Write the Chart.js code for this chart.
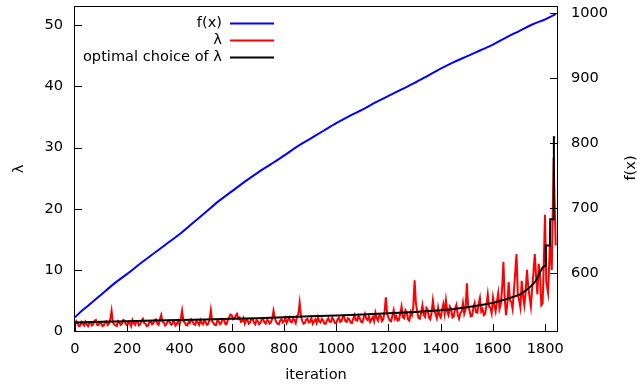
<!DOCTYPE html>
<html><head><meta charset="utf-8">
<script src="https://cdn.jsdelivr.net/npm/chart.js@4/dist/chart.umd.min.js"></script>
<style>html,body{margin:0;padding:0;background:#fff;overflow:hidden}</style>
</head><body>
<canvas id="c" width="637" height="385"></canvas>
<script>
// ---- data ----
const iterF = [0,20,50,100,150,200,250,300,350,400,450,500,550,600,650,700,750,800,850,900,950,1000,1050,1100,1150,1200,1250,1300,1350,1400,1450,1500,1550,1600,1650,1700,1750,1800,1840];
const fValues = [532,540,550,567,584,599,615,630,645,660,677,694,711,726,741,755,768,781,795,807,819,831,842,852,863,873,883,893,904,915,925,934,943,952,963,973,983,991,999];

const iterLambda = [0,5,10,15,20,25,30,35,40,45,50,55,60,65,70,75,80,85,90,95,100,105,110,115,120,125,130,135,140,145,150,155,160,165,170,175,180,185,190,195,200,205,210,215,220,225,230,235,240,245,250,255,260,265,270,275,280,285,290,295,300,305,310,315,320,325,330,335,340,345,350,355,360,365,370,375,380,385,390,395,400,405,410,415,420,425,430,435,440,445,450,455,460,465,470,475,480,485,490,495,500,505,510,515,520,525,530,535,540,545,550,555,560,565,570,575,580,585,590,595,600,605,610,615,620,625,630,635,640,645,650,655,660,665,670,675,680,685,690,695,700,705,710,715,720,725,730,735,740,745,750,755,760,765,770,775,780,785,790,795,800,805,810,815,820,825,830,835,840,845,850,855,860,865,870,875,880,885,890,895,900,905,910,915,920,925,930,935,940,945,950,955,960,965,970,975,980,985,990,995,1000,1005,1010,1015,1020,1025,1030,1035,1040,1045,1050,1055,1060,1065,1070,1075,1080,1085,1090,1095,1100,1105,1110,1115,1120,1125,1130,1135,1140,1145,1150,1155,1160,1165,1170,1175,1180,1185,1190,1195,1200,1205,1210,1215,1220,1225,1230,1235,1240,1245,1250,1255,1260,1265,1270,1275,1280,1285,1290,1295,1300,1305,1310,1315,1320,1325,1330,1335,1340,1345,1350,1355,1360,1365,1370,1375,1380,1385,1390,1395,1400,1405,1410,1415,1420,1425,1430,1435,1440,1445,1450,1455,1460,1465,1470,1475,1480,1485,1490,1495,1500,1505,1510,1515,1520,1525,1530,1535,1540,1545,1550,1555,1560,1565,1570,1575,1580,1585,1590,1595,1600,1605,1610,1615,1620,1625,1630,1635,1640,1645,1650,1655,1660,1665,1670,1675,1680,1685,1690,1695,1700,1705,1710,1715,1720,1725,1730,1735,1740,1745,1750,1755,1760,1765,1770,1775,1780,1785,1790,1795,1799,1804,1811,1818,1825,1832,1840];
const lambdaValues = [1.0,1.6,1.3,0.8,0.9,1.5,1.2,0.9,1.5,1.1,0.8,1.3,1.4,0.9,1.1,1.7,1.8,1.0,1.0,1.4,1.3,0.8,0.9,1.5,1.6,1.0,1.2,1.9,3.3,1.4,1.1,0.9,0.8,1.6,1.4,1.0,1.2,1.8,1.7,1.1,0.9,1.5,1.3,0.8,1.8,1.3,1.0,1.6,1.5,0.9,1.1,1.7,2.0,1.3,1.2,0.8,0.9,1.5,1.6,1.1,1.3,1.8,1.9,1.2,1.0,1.9,2.6,1.5,1.4,0.9,1.1,1.6,1.7,1.2,1.0,1.5,1.5,0.9,1.2,1.7,1.0,2.0,3.3,1.6,1.4,1.0,0.9,1.5,1.3,1.9,1.6,1.1,1.0,1.7,1.4,1.0,1.8,1.3,1.1,1.7,1.5,1.0,1.2,1.8,3.4,1.6,1.3,1.0,1.0,1.7,1.6,1.1,1.3,2.0,1.9,1.2,1.1,1.8,2.2,2.7,2.6,1.9,2.0,2.5,2.8,2.0,2.2,1.5,1.6,2.1,1.2,1.8,1.8,1.2,1.4,2.0,2.0,1.4,1.1,1.8,1.6,1.1,1.3,1.9,2.0,1.4,1.2,1.8,1.7,1.2,1.4,2.0,3.3,2.1,1.5,1.2,1.1,1.7,2.0,1.4,1.6,2.1,1.3,1.8,2.2,1.5,1.4,2.0,1.8,1.3,2.4,2.8,4.6,2.4,1.6,1.2,1.3,1.9,2.0,1.4,1.5,2.1,1.2,1.6,1.9,1.3,2.3,1.6,1.4,2.0,1.7,1.2,1.2,1.8,2.1,1.5,1.5,2.2,1.8,1.3,1.3,1.9,2.2,1.5,1.6,2.3,2.4,1.6,1.5,2.1,1.9,1.4,1.3,2.0,2.6,1.8,1.7,2.5,2.1,1.5,1.4,2.2,2.8,2.0,1.8,2.4,1.5,1.9,2.3,1.6,3.0,2.2,1.7,2.6,2.5,1.6,1.9,3.2,5.5,2.8,2.2,1.7,1.6,2.5,3.4,2.0,2.4,1.7,1.8,2.9,4.0,2.3,2.1,3.4,3.0,1.9,1.7,3.1,2.6,4.0,8.3,4.5,3.2,2.1,2.0,3.0,4.2,2.6,2.3,3.8,3.5,2.2,1.9,3.0,5.0,3.3,2.8,2.1,3.8,2.6,2.2,3.5,4.4,2.8,5.0,3.2,2.6,4.0,3.6,2.2,2.4,3.7,4.3,2.7,2.0,2.9,3.2,4.6,2.8,3.5,7.8,4.0,3.4,2.4,2.5,3.8,4.6,3.1,3.0,4.4,5.4,3.2,3.6,2.6,2.8,4.2,6.0,4.0,3.8,2.9,5.5,4.2,3.2,4.8,6.2,3.6,4.4,7.0,11.3,5.2,2.6,4.5,8.0,5.0,4.8,3.6,6.5,9.5,12.6,6.0,5.0,3.8,8.2,5.8,4.2,6.4,10.0,7.2,5.6,4.0,7.0,9.6,12.6,8.8,6.0,11.0,9.2,4.2,4.5,12.0,19.0,8.0,6.2,14.4,10.0,28.3,14.0];

const iterOpt = [0,100,200,300,400,500,600,700,800,900,1000,1100,1200,1300,1400,1450,1500,1550,1600,1650,1700,1725,1750,1765,1780,1790,1801,1802,1818,1819,1831,1833,1838];
const lambdaOpt = [1.4,1.5,1.6,1.7,1.8,1.9,2.0,2.1,2.25,2.4,2.55,2.7,2.9,3.1,3.4,3.6,3.9,4.2,4.6,5.2,5.9,6.6,7.5,8.3,9.6,10.4,10.7,14.0,14.0,18.3,18.3,31.7,31.7];

const xTicks = [0,200,400,600,800,1000,1200,1400,1600,1800];
const yLeftTicks = [0,10,20,30,40,50];
const yRightTicks = [600,700,800,900,1000];
const labels = { f: 'f(x)', lam: 'λ', opt: 'optimal choice of λ', x: 'iteration', yLeft: 'λ', yRight: 'f(x)' };

// ---- chart ----
const FONT = '"DejaVu Sans", sans-serif';
const FS = 14.6;
const toXY = (xs, ys) => xs.map((x, i) => ({x, y: ys[i]}));
const noPad = s => { s.paddingTop = 0; s.paddingBottom = 0; s.paddingLeft = 0; s.paddingRight = 0; };

const framePlugin = {
  id: 'frame',
  afterDraw(chart) {
    const ctx = chart.ctx, a = chart.chartArea;
    const sx = chart.scales.x, sy = chart.scales.y, sy2 = chart.scales.y2;
    ctx.save();
    ctx.strokeStyle = '#000';
    ctx.lineWidth = 1;
    ctx.beginPath();
    xTicks.forEach(v => { const p = Math.round(sx.getPixelForValue(v)) + 0.5; ctx.moveTo(p, a.bottom); ctx.lineTo(p, a.bottom - 7); });
    yLeftTicks.forEach(v => { const p = Math.round(sy.getPixelForValue(v)) + 0.5; ctx.moveTo(a.left, p); ctx.lineTo(a.left + 7, p); });
    yRightTicks.forEach(v => { const p = Math.round(sy2.getPixelForValue(v)) + 0.5; ctx.moveTo(a.right, p); ctx.lineTo(a.right - 7, p); });
    ctx.stroke();
    ctx.strokeRect(Math.round(a.left) - 0.5, Math.round(a.top) - 0.5, Math.round(a.right - a.left) + 1, Math.round(a.bottom - a.top) + 1);
    // legend (gnuplot style)
    ctx.font = FS + 'px ' + FONT;
    ctx.textAlign = 'right';
    ctx.textBaseline = 'middle';
    ctx.fillStyle = '#000';
    const order = [2, 1, 0];
    order.forEach((di, k) => {
      const ds = chart.data.datasets[di];
      const y = 23.5 + k * 17;
      ctx.fillText(ds.label, 222, y);
      ctx.strokeStyle = ds.borderColor;
      ctx.lineWidth = 2;
      ctx.beginPath(); ctx.moveTo(230, y); ctx.lineTo(274, y); ctx.stroke();
    });
    // right axis title, bottom-to-top
    ctx.translate(631, 168);
    ctx.rotate(-Math.PI / 2);
    ctx.textAlign = 'center';
    ctx.fillStyle = '#000';
    ctx.fillText(labels.yRight, 0, 0);
    ctx.restore();
  }
};

new Chart(document.getElementById('c'), {
  type: 'line',
  data: {
    datasets: [
      { label: labels.opt, data: toXY(iterOpt, lambdaOpt), borderColor: '#000000', borderWidth: 2, pointRadius: 0, yAxisID: 'y', order: 0 },
      { label: labels.lam, data: toXY(iterLambda, lambdaValues), borderColor: '#ff0000', borderWidth: 2, pointRadius: 0, yAxisID: 'y', order: 1 },
      { label: labels.f, data: toXY(iterF, fValues), borderColor: '#0000ff', borderWidth: 2, pointRadius: 0, yAxisID: 'y2', order: 2, cubicInterpolationMode: 'monotone' }
    ]
  },
  options: {
    responsive: false,
    devicePixelRatio: 1,
    animation: false,
    events: [],
    layout: { padding: { top: 7, left: 0, right: 0, bottom: 0 } },
    plugins: { legend: { display: false }, tooltip: { enabled: false } },
    scales: {
      x: {
        type: 'linear', position: 'bottom', min: 0, max: 1845,
        afterBuildTicks: s => { s.ticks = xTicks.map(v => ({ value: v })); },
        afterFit: s => { s.height = 54; noPad(s); },
        grid: { display: true, drawOnChartArea: false, drawTicks: false },
        border: { display: false },
        ticks: { padding: 9, color: '#000', font: { family: FONT, size: FS }, maxRotation: 0, callback: v => String(v) },
        title: { display: true, text: labels.x, color: '#000', font: { family: FONT, size: FS }, padding: { top: 0, bottom: 1 } }
      },
      y: {
        type: 'linear', position: 'left', min: 0, max: 53,
        afterBuildTicks: s => { s.ticks = yLeftTicks.map(v => ({ value: v })); },
        afterFit: s => { s.width = 75; noPad(s); },
        grid: { display: true, drawOnChartArea: false, drawTicks: false },
        border: { display: false },
        ticks: { padding: 12, color: '#000', font: { family: FONT, size: FS }, callback: v => String(v) },
        title: { display: true, text: labels.yLeft, color: '#000', font: { family: FONT, size: FS }, padding: { top: 10, bottom: 0 } }
      },
      y2: {
        type: 'linear', position: 'right', min: 511, max: 1010,
        afterBuildTicks: s => { s.ticks = yRightTicks.map(v => ({ value: v })); },
        afterFit: s => { s.width = 80; noPad(s); },
        grid: { display: true, drawOnChartArea: false, drawTicks: false },
        border: { display: false },
        ticks: { padding: 14, color: '#000', font: { family: FONT, size: FS }, callback: v => String(v) },
        title: { display: false }
      }
    }
  },
  plugins: [framePlugin]
});
</script>
</body></html>
